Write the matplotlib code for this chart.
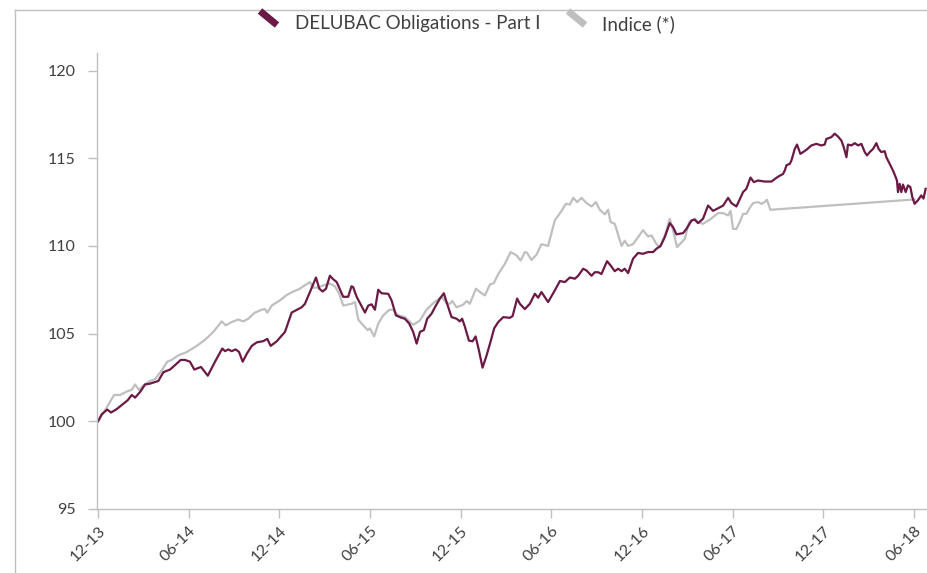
import matplotlib
matplotlib.use("Agg")
import matplotlib.pyplot as plt
from matplotlib.lines import Line2D

plt.rcParams['font.family'] = ['Lato', 'DejaVu Sans']

# months since end of December 2013
fonds_x = [0, 0.24, 0.61, 0.86, 1.24, 1.67, 1.96, 2.23, 2.45, 2.78, 3.11, 3.44, 3.99, 4.32, 4.76,
           5.09, 5.47, 5.75, 6.08, 6.37, 6.81, 7.26, 7.74, 8.22, 8.40, 8.62, 8.84, 9.11, 9.33,
           9.57, 9.84, 10.17, 10.50, 10.93, 11.20, 11.42, 11.82, 12.37, 12.81, 13.03, 13.47,
           13.69, 14.02, 14.42, 14.64, 14.86, 15.08, 15.34, 15.56, 15.79, 16.22, 16.55, 16.77,
           16.88, 17.11, 17.66, 17.88, 18.10, 18.32, 18.54, 18.76, 19.20, 19.42, 19.71, 20.09,
           20.30, 20.59, 20.85, 21.08, 21.30, 21.56, 21.78, 22.07, 22.29, 22.62, 22.88, 23.06,
           23.39, 23.72, 23.94, 24.09, 24.27, 24.54, 24.78, 24.98, 25.20, 25.44, 25.71, 25.99,
           26.21, 26.48, 26.81, 27.25, 27.43, 27.73, 27.91, 28.24, 28.57, 28.90, 29.12, 29.34,
           29.78, 30.22, 30.56, 30.89, 31.22, 31.55, 31.77, 32.10, 32.32, 32.65, 32.87, 33.09,
           33.31, 33.68, 33.90, 34.19, 34.41, 34.64, 34.85, 35.07, 35.40, 35.73, 36.06, 36.39,
           36.73, 36.95, 37.22, 37.50, 37.83, 38.05, 38.27, 38.71, 38.93, 39.27, 39.48, 39.70,
           40.03, 40.36, 40.48, 40.69, 40.92, 41.36, 41.69, 41.91, 42.24, 42.68, 42.90, 43.17,
           43.39, 43.67, 44.11, 44.56, 44.88, 45.10, 45.32, 45.44, 45.55, 45.77, 45.88, 46.10,
           46.25, 46.47, 46.65, 46.87, 47.20, 47.53, 47.86, 48.08, 48.19, 48.52, 48.74, 48.96,
           49.19, 49.34, 49.52, 49.62, 49.85, 50.07, 50.29, 50.51, 50.73, 50.88, 51.06, 51.28,
           51.50, 51.65, 51.83, 52.05, 52.16, 52.38, 52.60, 52.78, 52.86, 52.93, 53.04, 53.15,
           53.26, 53.44, 53.59, 53.75, 53.88, 54.03, 54.25, 54.47, 54.62, 54.76]
fonds_y = [100, 100.4, 100.67, 100.5, 100.7, 101.0, 101.2, 101.5, 101.35, 101.67, 102.1, 102.15,
           102.3, 102.8, 102.95, 103.2, 103.5, 103.5, 103.4, 102.95, 103.1, 102.6, 103.4, 104.15,
           104.0, 104.1, 104.0, 104.1, 103.95, 103.4, 103.85, 104.3, 104.5, 104.57, 104.7, 104.3,
           104.56, 105.1, 106.2, 106.3, 106.5, 106.7, 107.37, 108.2, 107.56, 107.4, 107.56,
           108.3, 108.1, 107.94, 107.1, 107.1, 107.7, 107.65, 107.1, 106.2, 106.6, 106.67,
           106.36, 107.5, 107.3, 107.27, 106.9, 106.04, 105.9, 105.85, 105.57, 105.1, 104.43,
           105.1, 105.2, 105.85, 106.14, 106.5, 107.0, 107.3, 106.8, 105.94, 105.85, 105.7,
           105.85, 105.4, 104.6, 104.56, 104.84, 104.05, 103.06, 103.76, 104.6, 105.3, 105.66,
           105.94, 105.9, 106.0, 107.0, 106.7, 106.4, 106.7, 107.27, 107.05, 107.37, 106.8,
           107.46, 108.0, 107.94, 108.2, 108.13, 108.3, 108.7, 108.6, 108.3, 108.5, 108.5,
           108.4, 109.13, 108.9, 108.56, 108.7, 108.56, 108.7, 108.45, 109.27, 109.6, 109.55,
           109.65, 109.65, 109.84, 110.0, 110.5, 111.3, 111.07, 110.66, 110.73, 110.97, 111.45,
           111.5, 111.3, 111.55, 112.3, 112.2, 112.0, 112.1, 112.3, 112.74, 112.44, 112.25,
           113.07, 113.26, 113.9, 113.64, 113.73, 113.67, 113.67, 113.88, 114.0, 114.1, 114.3,
           114.6, 114.68, 114.87, 115.53, 115.78, 115.25, 115.35, 115.48, 115.73, 115.82,
           115.73, 115.78, 116.1, 116.2, 116.4, 116.24, 116.0, 115.63, 115.06, 115.78, 115.73,
           115.86, 115.73, 115.82, 115.35, 115.16, 115.35, 115.53, 115.86, 115.53, 115.35,
           115.4, 115.06, 114.68, 114.3, 113.92, 113.73, 113.07, 113.54, 113.07, 113.5, 113.07,
           113.45, 113.35, 112.78, 112.4, 112.6, 112.88, 112.7, 113.26]

indice_x = [0, 0.46, 1.06, 1.46, 1.90, 2.23, 2.45, 2.73, 2.99, 3.44, 3.77, 4.21, 4.58, 4.87, 5.31,
            5.87, 6.53, 7.08, 7.63, 8.18, 8.45, 8.84, 9.28, 9.61, 9.94, 10.38, 10.83, 11.04,
            11.20, 11.49, 12.04, 12.48, 12.92, 13.36, 13.58, 14.02, 14.24, 14.57, 14.90, 15.34,
            15.67, 15.96, 16.22, 16.77, 17.00, 17.22, 17.55, 17.84, 17.99, 18.27, 18.54, 18.87,
            19.27, 19.53, 19.86, 20.30, 20.85, 21.30, 21.73, 22.18, 22.73, 23.06, 23.28, 23.43,
            23.72, 24.16, 24.39, 24.60, 25.00, 25.38, 25.60, 25.93, 26.19, 26.48, 26.92, 27.30,
            27.69, 27.96, 28.24, 28.39, 28.68, 29.01, 29.34, 29.78, 30.22, 30.67, 30.95, 31.22,
            31.44, 31.70, 31.99, 32.32, 32.65, 32.94, 33.20, 33.53, 33.75, 33.91, 34.19, 34.64,
            34.85, 35.07, 35.40, 35.73, 36.06, 36.39, 36.62, 36.95, 37.17, 37.50, 37.83, 38.10,
            38.31, 38.60, 38.82, 39.11, 39.48, 39.70, 40.03, 40.48, 40.69, 41.02, 41.36, 41.69,
            41.85, 42.02, 42.24, 42.46, 42.68, 42.90, 43.12, 43.34, 43.67, 43.89, 44.11, 44.26,
            44.49, 54.03]
indice_y = [100, 100.63, 101.5, 101.5, 101.7, 101.8, 102.1, 101.77, 102.05, 102.3, 102.4, 102.9,
            103.4, 103.5, 103.76, 103.95, 104.3, 104.65, 105.1, 105.7, 105.47, 105.66, 105.8,
            105.7, 105.85, 106.2, 106.36, 106.4, 106.2, 106.6, 106.9, 107.2, 107.4, 107.56,
            107.7, 107.94, 107.62, 107.62, 107.75, 107.85, 107.7, 107.27, 106.6, 106.7, 106.8,
            105.8, 105.47, 105.2, 105.3, 104.84, 105.57, 106.04, 106.36, 106.36, 106.04, 105.94,
            105.5, 105.75, 106.36, 106.74, 107.1, 106.74, 106.7, 106.86, 106.5, 106.65, 106.86,
            106.7, 107.56, 107.3, 107.18, 107.8, 107.88, 108.4, 108.98, 109.65, 109.46, 109.17,
            109.65, 109.6, 109.2, 109.5, 110.1, 110.0, 111.45, 112.0, 112.4, 112.36, 112.74,
            112.5, 112.74, 112.44, 112.25, 112.5, 112.06, 111.8, 112.06, 111.36, 111.26, 110.0,
            110.3, 110.0, 110.1, 110.5, 110.9, 110.54, 110.6, 110.1, 109.93, 110.6, 111.55,
            110.7, 109.93, 110.2, 110.4, 111.36, 111.55, 111.36, 111.26, 111.5, 111.64, 111.87,
            111.87, 111.74, 112.0, 110.97, 110.97, 111.36, 111.83, 111.83, 112.17, 112.44, 112.5,
            112.4, 112.5, 112.63, 112.06, 112.65]

tick_pos = [0, 6, 12, 18, 24, 30, 36, 42, 48, 54]
tick_labels = ["12-13", "06-14", "12-14", "06-15", "12-15", "06-16", "12-16", "06-17", "12-17", "06-18"]

violet = "#6B1A45"
gris = "#BFBFBF"
texte = "#404040"

fig = plt.figure(figsize=(9.27, 5.73), dpi=100)
ax = fig.add_axes([97 / 927, 1 - 509 / 573, 830 / 927, 456 / 573])

ax.plot(indice_x, indice_y, color=gris, lw=1.6, solid_joinstyle="round")
ax.plot(fonds_x, fonds_y, color=violet, lw=1.6, solid_joinstyle="round")

ax.set_xlim(-0.07, 54.85)
ax.set_ylim(95, 121)
ax.set_yticks([95, 100, 105, 110, 115, 120])
ax.set_xticks(tick_pos)
ax.set_xticklabels(tick_labels, rotation=45, ha="right", va="top", rotation_mode="anchor")

for s in ["top", "right"]:
    ax.spines[s].set_visible(False)
for s in ["left", "bottom"]:
    ax.spines[s].set_color(gris)
    ax.spines[s].set_linewidth(1.0)
ax.tick_params(axis="both", direction="out", length=6.5, width=1.0, color=gris,
               labelsize=11.5, labelcolor=texte)
ax.tick_params(axis="y", pad=9)
ax.tick_params(axis="x", pad=4)

# cadre du graphique
fig.add_artist(Line2D([15 / 927, 15 / 927], [0, 1 - 10 / 573], color=gris, lw=1.0))
fig.add_artist(Line2D([15 / 927, 1], [1 - 10 / 573, 1 - 10 / 573], color=gris, lw=1.0))

# légende
fig.add_artist(Line2D([260 / 927, 277 / 927], [1 - 11 / 573, 1 - 25 / 573], color=violet, lw=5,
                      solid_capstyle="butt"))
fig.text(295 / 927, 1 - 24 / 573, "DELUBAC Obligations - Part I", fontsize=13.5, color=texte, va="center")
fig.add_artist(Line2D([568 / 927, 585 / 927], [1 - 11 / 573, 1 - 25 / 573], color=gris, lw=5,
                      solid_capstyle="butt"))
fig.text(602 / 927, 1 - 24 / 573, "Indice (*)", fontsize=13.5, color=texte, va="center")

fig.savefig("out.png", dpi=100)
